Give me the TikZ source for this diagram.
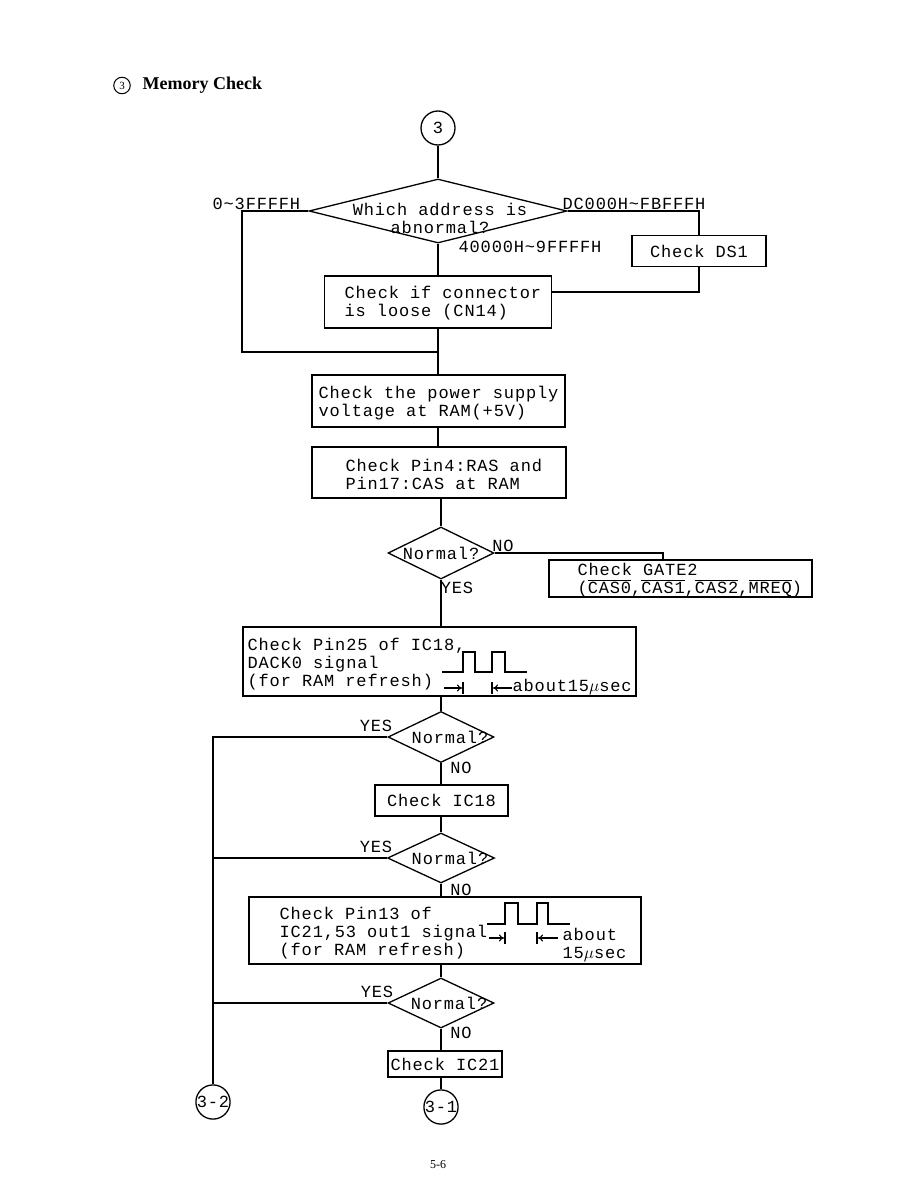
\documentclass[tikz,border=0pt]{standalone}
\usepackage{fontspec}
\newfontfamily\mono[LetterSpace=5]{Liberation Mono}
\newfontfamily\serif{Liberation Serif}
\usetikzlibrary{shapes.geometric,arrows.meta}
\newcommand{\ovl}[1]{$\overline{\mbox{#1}}$}
\begin{document}
\begin{tikzpicture}[x=1pt,y=-1pt,line width=1.3pt,
  every node/.style={inner sep=0pt,font=\mono\fontsize{17}{18}\selectfont},
  box/.style={draw,rectangle},
  dec/.style={draw,diamond,inner sep=0pt},
  conn/.style={draw,circle,minimum size=34pt},
  wave/.style={line width=1.2pt},
  tip/.style={-{To[length=5pt,width=7pt]},line width=1.1pt},
  tick/.style={line width=1.1pt}]
\fill[white] (0,0) rectangle (918,1188);
\useasboundingbox (0,0) rectangle (918,1188);

% title
\node[draw,circle,line width=1pt,minimum size=16.5pt,font=\serif\fontsize{11}{11}\selectfont] (tc) at (122,85.5) {3};
\node[anchor=base west,font=\serif\bfseries\fontsize{18}{18}\selectfont] (title) at (142,90) {Memory Check};

% helper coordinates
\coordinate (j1) at (438,352);
\coordinate (xl) at (242,0);
\coordinate (k1) at (0,292);
\coordinate (k2) at (663,0);
\coordinate (m1) at (438,0);

% nodes
\node[conn] (c3) at (438,128) {3};
\node[dec,minimum width=258pt,minimum height=64pt] (d1) at (438,211) {};
\node[align=center] (d1t) at (440,218) {Which address is\\abnormal?};
\node[anchor=base west] (l1) at (212,209) {0\textasciitilde 3FFFFH};
\node[anchor=base west] (l2) at (562,209) {DC000H\textasciitilde FBFFFH};
\node[anchor=base west] (l3) at (458,252) {40000H\textasciitilde 9FFFFH};
\node[box,minimum width=134pt,minimum height=31pt] (ds1) at (699,251) {Check DS1};

\node[box,minimum width=227pt,minimum height=52pt] (b1) at (438,302) {};
\node[anchor=west,align=left] (b1t) at (344,303) {Check if connector\\is loose (CN14)};

\node[box,minimum width=253pt,minimum height=52pt] (b3) at (438.5,401) {};
\node[anchor=west,align=left] (b3t) at (318,403) {Check the power supply\\voltage at RAM(+5V)};

\node[box,minimum width=254pt,minimum height=51pt] (b4) at (439,472.5) {};
\node[anchor=west,align=left] (b4t) at (345,474.5) {Check Pin4:RAS and\\Pin17:CAS at RAM};

\node[dec,minimum width=106pt,minimum height=52pt] (d2) at (441,553) {};
\node (d2t) at (441,553) {Normal?};
\node (n2) at (503,546) {NO};
\node (y2) at (457,588) {YES};

\node[box,minimum width=263pt,minimum height=37pt] (gate2) at (680.5,578.5) {};
\node[anchor=west,align=left] (gate2t) at (577,580) {Check GATE2\\(\ovl{CAS0},\ovl{CAS1},\ovl{CAS2},\ovl{MREQ})};

\node[box,minimum width=393pt,minimum height=69pt] (b5) at (439.5,661.5) {};
\node[anchor=west,align=left] (b5t) at (247,664) {Check Pin25 of IC18,\\DACK0 signal\\(for RAM refresh)};
\node[anchor=west] (b5a) at (512,687) {about15$\mu$sec};

\node[dec,minimum width=106pt,minimum height=51pt] (d3) at (441,737) {};
\node (d3t) at (450,737) {Normal?};
\node (y3) at (376,726) {YES};
\node (n3) at (461,768) {NO};

\node[box,minimum width=133pt,minimum height=31pt] (ic18) at (441.5,800.5) {Check IC18};

\node[dec,minimum width=107pt,minimum height=50pt] (d4) at (441,858) {};
\node (d4t) at (450,858) {Normal?};
\node (y4) at (376,847) {YES};
\node (n4) at (461,890) {NO};

\node[box,minimum width=392pt,minimum height=67pt] (b6) at (445,930.5) {};
\node[anchor=west,align=left] (b6t) at (279,933) {Check Pin13 of\\IC21,53 out1 signal\\(for RAM refresh)};
\node[anchor=west,align=left] (b6a) at (562,945) {about\\15$\mu$sec};

\node[dec,minimum width=106pt,minimum height=50pt] (d5) at (441,1003) {};
\node (d5t) at (449,1003) {Normal?};
\node (y5) at (377,992) {YES};
\node (n5) at (461,1033) {NO};

\node[box,minimum width=114pt,minimum height=26pt] (ic21) at (445,1064) {Check IC21};
\node[conn] (c31) at (441,1107) {3-1};
\node[conn] (c32) at (213,1102) {3-2};

\node[font=\serif\fontsize{12}{12}\selectfont] (pg) at (438,1165) {5-6};

% connectors
\draw (c3.south) -- (d1.north);
\draw (d1.west) -- (d1.west -| xl) |- (j1);
\draw (d1.east) -| (ds1.north);
\draw (ds1.south) |- (b1.east |- k1);
\draw (d1.south) -- (b1.north);
\draw (b1.south) -- (j1) -- (b3.north -| j1);
\draw (b3.south -| m1) -- (b4.north -| m1);
\draw (b4.south -| d2) -- (d2.north);
\draw (d2.east) -| (gate2.north -| k2);
\draw (d2.south) -- (b5.north -| d2);
\draw (b5.south -| d3) -- (d3.north);
\draw (d3.west) -| (c32.north);
\draw (d3.south) -- (ic18.north -| d3);
\draw (ic18.south -| d4) -- (d4.north);
\draw (d4.west) -- (d4.west -| c32);
\draw (d4.south) -- (b6.north -| d4);
\draw (b6.south -| d5) -- (d5.north);
\draw (d5.west) -- (d5.west -| c32);
\draw (d5.south) -- (ic21.north -| d5);
\draw (ic21.south -| c31) -- (c31.north);

% waveform in box 5
\draw[wave] (442,672) -- (463,672) -- (463,652) -- (475,652) -- (475,672) -- (492,672) -- (492,652) -- (505,652) -- (505,672) -- (527,672);
\draw[tip] (444,688) -- (462,688);
\draw[tick] (463,682) -- (463,694);
\draw[tip] (512,688) -- (493,688);
\draw[tick] (492,682) -- (492,694);

% waveform in box 6
\draw[wave] (487,924) -- (505,924) -- (505,903) -- (518,903) -- (518,924) -- (537,924) -- (537,903) -- (548,903) -- (548,924) -- (570,924);
\draw[tip] (489,938) -- (504,938);
\draw[tick] (505,932) -- (505,944);
\draw[tip] (558,938) -- (538,938);
\draw[tick] (537,932) -- (537,944);
\end{tikzpicture}
\end{document}
